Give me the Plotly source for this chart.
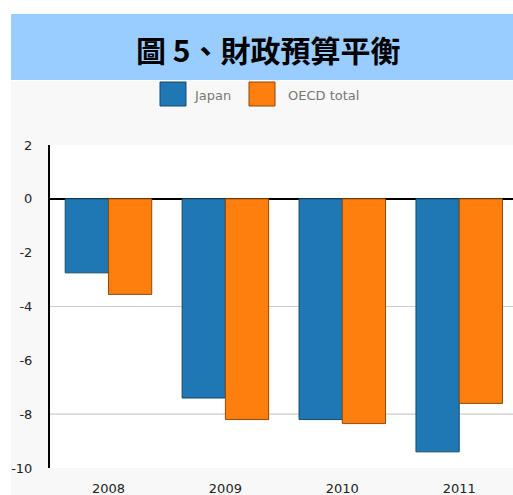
import plotly.graph_objects as go

years = ["2008", "2009", "2010", "2011"]
japan = [-2.75, -7.4, -8.2, -9.4]
oecd = [-3.55, -8.2, -8.35, -7.6]
y_ticks = [2, 0, -2, -4, -6, -8, -10]
y_tick_text = ["2", "0", "-2", "-4", "-6", "-8", "-10"]
grid_vals = [-4, -8]
series_names = ["Japan", "OECD total"]
colors = ["#1f77b4", "#ff7f0e"]
edge_colors = ["#164a6e", "#8c4a0c"]

W, H = 513, 495
L, R, T, B = 50, 0, 145, 27
PW, PH = W - L - R, H - T - B


def px(x):
    return (x - L) / PW


def py(y):
    return (H - B - y) / PH


fig = go.Figure()
for name, vals, c, ec in zip(series_names, [japan, oecd], colors, edge_colors):
    fig.add_trace(go.Bar(x=years, y=vals, name=name, marker=dict(color=c, line=dict(color=ec, width=1)),
                         showlegend=False))

shapes = [
    # gray panel background
    dict(type="rect", xref="paper", yref="paper", x0=px(11), x1=px(513), y0=py(495), y1=py(81),
         fillcolor="#f8f8f8", line=dict(width=0), layer="below"),
    # white plot area
    dict(type="rect", xref="paper", yref="paper", x0=0, x1=1, y0=0, y1=1,
         fillcolor="white", line=dict(width=0), layer="below"),
    # title banner
    dict(type="rect", xref="paper", yref="paper", x0=px(11), x1=px(513), y0=py(80), y1=py(14),
         fillcolor="#99ccff", line=dict(width=0), layer="below"),
]
for g in grid_vals:
    shapes.append(dict(type="line", xref="paper", yref="y", x0=0, x1=1, y0=g, y1=g,
                       line=dict(color="#cccccc", width=1.2), layer="below"))

# legend swatches
for (x0, x1), c, ec in zip([(160, 186), (249, 275)], colors, edge_colors):
    shapes.append(dict(type="rect", xref="paper", yref="paper", x0=px(x0), x1=px(x1), y0=py(106), y1=py(82),
                       fillcolor=c, line=dict(color=ec, width=1)))

annotations = [
    dict(text="<b>圖 5、財政預算平衡</b>", xref="paper", yref="paper", x=px(268), y=py(49),
         xanchor="center", yanchor="middle", showarrow=False,
         font=dict(family="Noto Sans CJK TC", size=30, color="black")),
]
for xl, name in zip([192, 286], series_names):
    annotations.append(dict(text=name, xref="paper", yref="paper", x=px(xl), y=py(95),
                            xanchor="left", yanchor="middle", showarrow=False,
                            font=dict(family="DejaVu Sans", size=13, color="#777777")))

fig.update_layout(
    width=W, height=H,
    margin=dict(l=L, r=R, t=T, b=B, pad=0),
    paper_bgcolor="white", plot_bgcolor="white",
    barmode="group", bargap=0.26, bargroupgap=0,
    shapes=shapes, annotations=annotations,
    showlegend=False,
    xaxis=dict(range=[-0.5, 3.46], showgrid=False, showline=False, zeroline=False, ticks="",
               tickfont=dict(family="DejaVu Sans", size=13, color="#222222"),
               ticklabelstandoff=11),
    yaxis=dict(range=[-10, 2], tickvals=y_ticks, ticktext=y_tick_text, showgrid=False,
               zeroline=True, zerolinecolor="black", zerolinewidth=1.5,
               showline=True, linecolor="black", linewidth=2, ticks="",
               tickfont=dict(family="DejaVu Sans", size=13, color="#222222"),
               ticklabelstandoff=13),
)

fig.write_html(
    "out.html",
    config={"displayModeBar": False},
    post_script="document.body.style.margin='0';document.documentElement.style.overflow='hidden';",
)
